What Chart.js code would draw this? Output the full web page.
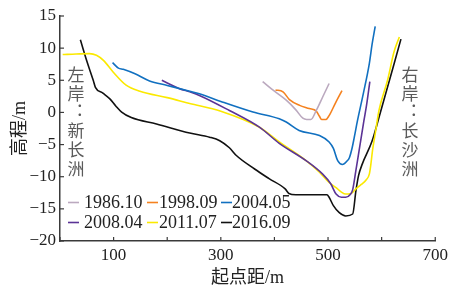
<!DOCTYPE html>
<html>
<head>
<meta charset="utf-8">
<script src="https://cdn.jsdelivr.net/npm/chart.js@4"></script>
<style>
  html, body { margin: 0; padding: 0; background: #fff; }
</style>
</head>
<body>
<canvas id="chart" width="452" height="290"></canvas>
<script>
// survey dates and their line colours
const years = ['1986.10', '1998.09', '2004.05', '2008.04', '2011.07', '2016.09'];
const lineColors = ['#bba9bf', '#f5821f', '#1170c0', '#5b3396', '#fbe900', '#111111'];

// distance from start point (m) and bed elevation (m), one pair per survey
const dist1986 = [378, 400, 422, 440, 453, 460, 468, 478, 490, 502];
const elev1986 = [4.8, 3.3, 1.9, 0.4, -0.9, -1.1, -1.1, 0.3, 2.4, 4.5];

const dist1998 = [402, 416, 428, 447, 465, 478, 484, 488, 496, 502, 514, 526];
const elev1998 = [3.5, 3.2, 2.0, 1.1, 0.6, 0.2, -0.6, -1.1, -1.1, -0.5, 1.5, 3.4];

const dist2004 = [98, 109, 118, 140, 167, 200, 242, 260, 300, 360, 409, 422, 446, 484, 502, 510, 518, 527, 535, 540, 545, 549, 555, 566, 577, 582, 588];
const elev2004 = [7.75, 6.9, 6.7, 6.0, 4.9, 4.2, 3.3, 2.9, 1.7, 0.05, -1.0, -1.5, -2.8, -3.6, -4.6, -5.6, -7.5, -8.1, -7.6, -7.0, -5.5, -3.85, -1.25, 3.0, 7.6, 10.5, 13.4];

const dist2008 = [190, 223, 242, 260, 316, 372, 409, 459, 490, 505, 515, 525, 533, 541, 546, 552, 558, 567, 572, 578];
const elev2008 = [5.0, 3.7, 3.2, 2.65, 0.3, -2.3, -4.8, -7.5, -9.6, -11.1, -12.7, -13.2, -13.2, -12.8, -12.0, -9.0, -5.9, -1.25, 1.2, 4.8];

const dist2011 = [5, 30, 55, 68, 81, 99, 124, 149, 200, 242, 300, 372, 409, 459, 484, 502, 515, 525, 533, 543, 552, 562, 571, 577, 580, 583, 589, 595, 611, 623, 633];
const elev2011 = [9.0, 9.1, 9.15, 8.9, 8.1, 6.3, 4.2, 3.3, 2.3, 1.4, 0.2, -2.3, -4.6, -7.5, -9.3, -10.9, -11.7, -12.4, -12.7, -12.6, -11.9, -11.2, -10.5, -9.6, -8.0, -5.9, -2.8, 0.3, 5.0, 9.4, 11.75];

const dist2016 = [38, 50, 62, 66, 80, 93, 104, 115, 133, 180, 242, 279, 298, 316, 329, 363, 390, 420, 427, 440, 498, 502, 510, 521, 533, 546, 552, 557, 564, 582, 595, 636];
const elev2016 = [11.3, 8.0, 5.0, 3.9, 3.0, 2.1, 1.0, 0.05, -0.8, -1.8, -3.2, -3.85, -4.4, -5.5, -6.7, -8.8, -10.3, -11.9, -12.6, -12.8, -12.8, -13.2, -14.5, -15.6, -16.1, -15.8, -12.2, -9.8, -8.0, -4.5, -0.8, 11.4];

const allDist = [dist1986, dist1998, dist2004, dist2008, dist2011, dist2016];
const allElev = [elev1986, elev1998, elev2004, elev2008, elev2011, elev2016];

// bank labels, written top to bottom
const leftBank = ['左', '岸', '︓', '新', '长', '洲'];
const rightBank = ['右', '岸', '︓', '长', '沙', '洲'];

const FONT = "'Liberation Serif', 'Noto Sans CJK SC', serif";
const AXIS_COLOR = '#3a3a3a';

const datasets = years.map((yr, i) => ({
    label: yr,
    data: allDist[i].map((d, j) => ({ x: d, y: allElev[i][j] })),
    borderColor: lineColors[i],
    backgroundColor: lineColors[i],
    borderWidth: 1.6,
    pointRadius: 0,
    fill: false,
    cubicInterpolationMode: 'monotone'
}));

// inner tick marks, the legend inside the plot and the vertical bank labels
const extras = {
    id: 'extras',
    afterDraw(chart) {
        const ctx = chart.ctx;
        const xs = chart.scales.x;
        const ys = chart.scales.y;
        ctx.save();

        ctx.strokeStyle = AXIS_COLOR;
        ctx.lineWidth = 1.2;
        xs.ticks.forEach(t => {
            const px = xs.getPixelForValue(t.value);
            ctx.beginPath();
            ctx.moveTo(px, ys.bottom);
            ctx.lineTo(px, ys.bottom - 4);
            ctx.stroke();
        });
        ys.ticks.forEach(t => {
            const py = ys.getPixelForValue(t.value);
            ctx.beginPath();
            ctx.moveTo(xs.left, py);
            ctx.lineTo(xs.left + 4, py);
            ctx.stroke();
        });

        // legend: 3 columns x 2 rows
        const lineX = [68, 147, 221];
        const textX = [84, 159, 232];
        const rowY = [202.5, 222.5];
        ctx.font = '18px ' + FONT;
        ctx.textBaseline = 'middle';
        ctx.textAlign = 'left';
        chart.data.datasets.forEach((ds, i) => {
            const col = i % 3, row = Math.floor(i / 3);
            ctx.strokeStyle = ds.borderColor;
            ctx.lineWidth = 1.6;
            ctx.beginPath();
            ctx.moveTo(lineX[col], rowY[row]);
            ctx.lineTo(lineX[col] + 11, rowY[row]);
            ctx.stroke();
            ctx.fillStyle = '#222';
            ctx.fillText(ds.label, textX[col], rowY[row] + 1);
        });

        // bank labels
        ctx.font = "17px 'Noto Sans CJK SC'";
        ctx.fillStyle = '#5a5a5a';
        ctx.textAlign = 'center';
        const charY = [75, 94, 112, 131, 150, 169];
        leftBank.forEach((c, i) => ctx.fillText(c, 76, charY[i]));
        rightBank.forEach((c, i) => ctx.fillText(c, 410, charY[i]));

        ctx.restore();
    }
};

new Chart(document.getElementById('chart'), {
    type: 'line',
    data: { datasets: datasets },
    options: {
        responsive: false,
        animation: false,
        devicePixelRatio: 1,
        layout: { padding: { top: 16, right: 16, left: 0, bottom: 0 } },
        plugins: {
            legend: { display: false },
            tooltip: { enabled: false }
        },
        scales: {
            x: {
                type: 'linear',
                min: 0,
                max: 700,
                afterFit(scale) { scale.height = 49; },
                grid: { drawOnChartArea: false, drawTicks: false },
                border: { display: true, color: AXIS_COLOR, width: 1.5 },
                ticks: {
                    stepSize: 100,
                    autoSkip: false,
                    maxRotation: 0,
                    padding: 4,
                    color: '#222',
                    font: { family: FONT, size: 17 },
                    callback: v => ((v / 100) % 2 === 1 ? String(v) : '')
                },
                title: {
                    display: true,
                    text: '起点距/m',
                    color: '#222',
                    font: { family: FONT, size: 18, lineHeight: 1.2 },
                    padding: { top: 0, bottom: 1 }
                }
            },
            y: {
                type: 'linear',
                min: -20,
                max: 15,
                afterFit(scale) { scale.width = 60; },
                grid: { drawOnChartArea: false, drawTicks: false },
                border: { display: true, color: AXIS_COLOR, width: 1.5 },
                ticks: {
                    stepSize: 5,
                    padding: 4,
                    color: '#222',
                    font: { family: FONT, size: 17 },
                    callback: v => String(v).replace('-', '\u2212')
                },
                title: {
                    display: true,
                    text: '高程/m',
                    color: '#222',
                    font: { family: FONT, size: 18, lineHeight: 1.2 },
                    padding: { top: 9, bottom: 0 }
                }
            }
        }
    },
    plugins: [extras]
});
</script>
</body>
</html>
